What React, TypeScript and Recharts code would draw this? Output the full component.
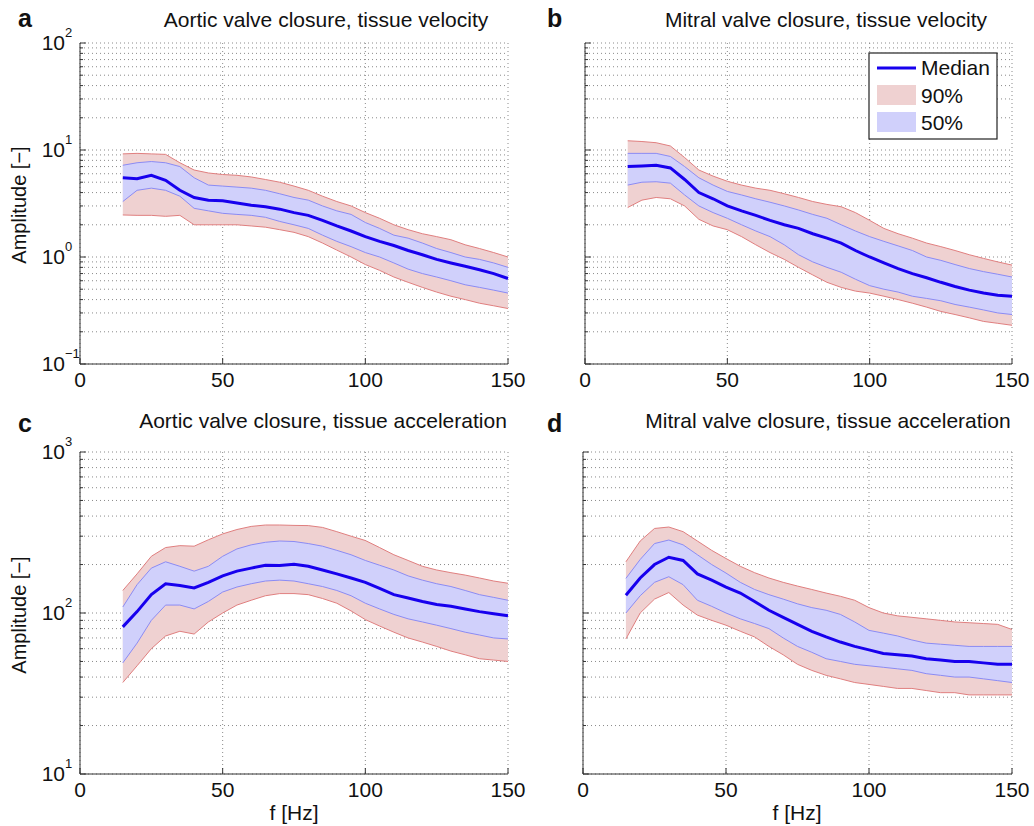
import React from 'react';
import { ComposedChart, Area, Line, XAxis, YAxis, CartesianGrid } from 'recharts';

// frequency samples [Hz]
const freq = [15, 20, 25, 30, 35, 40, 45, 50, 55, 60, 65, 70, 75, 80, 85, 90, 95, 100, 105, 110, 115, 120, 125, 130, 135, 140, 145, 150];

// a: aortic valve closure, tissue velocity
const aMedian = [5.5, 5.4, 5.8, 5.2, 4.2, 3.6, 3.4, 3.35, 3.2, 3.05, 2.95, 2.8, 2.6, 2.45, 2.2, 1.95, 1.75, 1.55, 1.4, 1.28, 1.15, 1.05, 0.95, 0.88, 0.82, 0.76, 0.7, 0.63];
const aHi90 = [9.2, 9.3, 9.2, 9.1, 7.6, 6.5, 6.1, 5.9, 5.8, 5.6, 5.3, 5.0, 4.6, 4.2, 3.7, 3.3, 3.0, 2.6, 2.3, 2.0, 1.8, 1.65, 1.55, 1.45, 1.3, 1.2, 1.1, 1.0];
const aHi50 = [7.2, 7.6, 7.8, 7.6, 7.0, 5.5, 4.7, 4.6, 4.5, 4.4, 4.2, 3.9, 3.6, 3.4, 3.0, 2.7, 2.5, 2.1, 1.85, 1.6, 1.5, 1.35, 1.2, 1.1, 1.0, 0.95, 0.88, 0.8];
const aLo50 = [3.3, 4.2, 4.4, 4.2, 3.7, 2.85, 2.7, 2.56, 2.5, 2.45, 2.35, 2.15, 2.0, 1.85, 1.6, 1.4, 1.25, 1.1, 1.0, 0.88, 0.77, 0.7, 0.65, 0.6, 0.55, 0.52, 0.49, 0.46];
const aLo90 = [2.47, 2.45, 2.45, 2.4, 2.45, 2.0, 2.0, 2.0, 2.0, 1.95, 1.9, 1.8, 1.7, 1.55, 1.35, 1.16, 1.0, 0.85, 0.75, 0.65, 0.58, 0.52, 0.47, 0.43, 0.4, 0.37, 0.35, 0.33];

// b: mitral valve closure, tissue velocity
const bMedian = [7.0, 7.1, 7.2, 6.8, 5.3, 4.0, 3.5, 3.0, 2.7, 2.45, 2.2, 2.0, 1.85, 1.65, 1.5, 1.35, 1.15, 1.0, 0.88, 0.78, 0.7, 0.64, 0.58, 0.53, 0.49, 0.46, 0.44, 0.43];
const bHi90 = [12.2, 12.0, 11.7, 10.9, 8.5, 6.5, 5.7, 5.1, 4.7, 4.4, 4.2, 3.9, 3.6, 3.3, 3.1, 2.95, 2.6, 2.2, 1.85, 1.65, 1.5, 1.35, 1.25, 1.15, 1.05, 0.97, 0.9, 0.84];
const bHi50 = [9.3, 9.3, 9.3, 8.7, 7.0, 5.5, 4.7, 4.1, 3.8, 3.5, 3.25, 3.0, 2.75, 2.5, 2.3, 2.0, 1.75, 1.55, 1.4, 1.27, 1.15, 1.0, 0.93, 0.85, 0.78, 0.73, 0.69, 0.65];
const bLo50 = [4.7, 5.0, 5.05, 4.9, 3.8, 3.0, 2.6, 2.3, 2.0, 1.75, 1.55, 1.3, 1.05, 0.9, 0.8, 0.72, 0.62, 0.54, 0.5, 0.47, 0.43, 0.41, 0.39, 0.36, 0.34, 0.32, 0.3, 0.29];
const bLo90 = [2.9, 3.4, 3.6, 3.5, 3.0, 2.25, 1.95, 1.8, 1.55, 1.3, 1.1, 0.95, 0.8, 0.68, 0.58, 0.52, 0.48, 0.46, 0.43, 0.4, 0.37, 0.34, 0.31, 0.29, 0.27, 0.25, 0.24, 0.23];

// c: aortic valve closure, tissue acceleration
const cMedian = [82, 102, 130, 152, 148, 143, 155, 170, 182, 190, 198, 197, 201, 195, 185, 175, 165, 155, 142, 130, 124, 118, 113, 110, 106, 102, 99, 96];
const cHi90 = [138, 175, 225, 255, 262, 260, 285, 310, 330, 345, 352, 352, 350, 349, 340, 320, 300, 282, 255, 230, 212, 195, 185, 178, 172, 165, 158, 153];
const cHi50 = [109, 150, 190, 208, 195, 182, 195, 225, 250, 265, 275, 280, 278, 270, 260, 245, 230, 212, 198, 185, 170, 160, 152, 146, 138, 130, 125, 120];
const cLo50 = [49, 65, 90, 112, 112, 106, 118, 135, 145, 152, 158, 160, 158, 152, 146, 138, 128, 115, 106, 98, 92, 88, 84, 80, 76, 73, 70, 69];
const cLo90 = [37, 47, 60, 72, 77, 74, 88, 100, 112, 120, 128, 132, 132, 130, 123, 115, 103, 91, 83, 76, 70, 66, 62, 58, 55, 52, 51, 50];

// d: mitral valve closure, tissue acceleration
const dMedian = [129, 165, 200, 222, 212, 175, 160, 145, 133, 118, 104, 94, 85, 77, 71, 66, 62, 59, 56, 55, 54, 52, 51, 50, 50, 49, 48, 48];
const dHi90 = [208, 280, 335, 342, 320, 280, 245, 218, 195, 178, 165, 155, 147, 140, 133, 127, 120, 108, 100, 96, 94, 92, 90, 88, 87, 86, 85, 79];
const dHi50 = [164, 215, 270, 284, 265, 230, 200, 177, 155, 140, 130, 122, 114, 108, 104, 98, 88, 78, 75, 72, 68, 65, 64, 63, 62, 62, 62, 62];
const dLo50 = [100, 128, 155, 168, 150, 120, 110, 100, 92, 86, 80, 70, 62, 57, 52, 50, 48, 47, 46, 45, 44, 42, 41, 40, 40, 39, 38, 37];
const dLo90 = [69, 100, 122, 134, 112, 97, 90, 84, 77, 71, 62, 55, 48, 44, 41, 39, 37, 36, 35, 34, 34, 33, 32, 32, 31, 31, 31, 31];

// axis ticks
const xTicks = [0, 50, 100, 150];
const velDecades = [0.1, 1, 10, 100];
const accDecades = [10, 100, 1000];
const minorSteps = [1, 2, 3, 4, 5, 6, 7, 8, 9];

const FONT = '"Liberation Sans", Arial, Helvetica, sans-serif';
const AXIS = '#333';
const MINUS = '\u2212';

const logTicks = (decades: number[]) => {
  const out: number[] = [];
  decades.slice(0, -1).forEach((d) => minorSteps.forEach((m) => out.push(+(d * m).toPrecision(6))));
  out.push(decades[decades.length - 1]);
  return out;
};

const makeRows = (med: number[], lo90: number[], hi90: number[], lo50: number[], hi50: number[]) =>
  freq.map((f, i) => ({ f, med: med[i], p90: [lo90[i], hi90[i]], p50: [lo50[i], hi50[i]] }));

const YTick = (props: any) => {
  const { x, y, payload, showLabel } = props;
  const v = payload.value;
  const e = Math.log10(v);
  const major = Math.abs(e - Math.round(e)) < 1e-6;
  const exp = Math.round(e);
  return (
    <g>
      <line x1={x} x2={x + (major ? 6 : 3)} y1={y} y2={y} stroke={AXIS} />
      {major && showLabel && (
        <g fontFamily={FONT} fill="#111">
          <text x={x - 15} y={y + 7} textAnchor="end" fontSize={21}>10</text>
          <text x={x - 15} y={y - 6} fontSize={13}>{exp < 0 ? MINUS + -exp : exp}</text>
        </g>
      )}
    </g>
  );
};

const XTick = (props: any) => {
  const { x, y, payload } = props;
  return (
    <g>
      <line x1={x} x2={x} y1={y} y2={y - 6} stroke={AXIS} />
      <text x={x} y={y + 23} textAnchor="middle" fontSize={21} fontFamily={FONT} fill="#111">
        {payload.value}
      </text>
    </g>
  );
};

type PanelProps = {
  left: number;
  top: number;
  width: number;
  height: number;
  margin: { top: number; right: number; left: number; bottom: number };
  rows: any[];
  decades: number[];
  showYLabels: boolean;
};

const Panel = ({ left, top, width, height, margin, rows, decades, showYLabels }: PanelProps) => (
  <div style={{ position: 'absolute', left, top }}>
    <ComposedChart width={width} height={height} data={rows} margin={margin}>
      <CartesianGrid stroke="#8a8a8a" strokeDasharray="1 3" />
      <XAxis
        dataKey="f"
        type="number"
        domain={[0, 150]}
        ticks={xTicks}
        interval={0}
        height={40}
        tickSize={0}
        tickMargin={0}
        tickLine={false}
        axisLine={{ stroke: AXIS }}
        tick={<XTick />}
      />
      <YAxis
        type="number"
        scale="log"
        domain={[decades[0], decades[decades.length - 1]]}
        allowDataOverflow
        ticks={logTicks(decades)}
        interval={0}
        width={80}
        tickSize={0}
        tickMargin={0}
        tickLine={false}
        axisLine={{ stroke: AXIS }}
        tick={<YTick showLabel={showYLabels} />}
      />
      <Area dataKey="p90" type="linear" fill="#efd1d1" fillOpacity={1} stroke="#e07f7f" strokeWidth={1} isAnimationActive={false} />
      <Area dataKey="p50" type="linear" fill="#d0d0fb" fillOpacity={1} stroke="#8b8bf4" strokeWidth={1} isAnimationActive={false} />
      <Line dataKey="med" type="linear" stroke="#1700ee" strokeWidth={3} dot={false} isAnimationActive={false} />
    </ComposedChart>
  </div>
);

const Overlay = () => (
  <svg width={1034} height={826} style={{ position: 'absolute', left: 0, top: 0, pointerEvents: 'none' }} fontFamily={FONT} fill="#111">
    <text x={18} y={27} fontSize={25} fontWeight="bold">a</text>
    <text x={547} y={27} fontSize={25} fontWeight="bold">b</text>
    <text x={18} y={432} fontSize={25} fontWeight="bold">c</text>
    <text x={547} y={432} fontSize={25} fontWeight="bold">d</text>
    <text x={326} y={27} fontSize={21} textAnchor="middle">Aortic valve closure, tissue velocity</text>
    <text x={826} y={27} fontSize={21} textAnchor="middle">Mitral valve closure, tissue velocity</text>
    <text x={323} y={428} fontSize={21} textAnchor="middle">Aortic valve closure, tissue acceleration</text>
    <text x={828} y={428} fontSize={21} textAnchor="middle">Mitral valve closure, tissue acceleration</text>
    <text x={26} y={205} fontSize={20} textAnchor="middle" transform="rotate(-90 26 205)">{'Amplitude [' + MINUS + ']'}</text>
    <text x={26} y={615} fontSize={20} textAnchor="middle" transform="rotate(-90 26 615)">{'Amplitude [' + MINUS + ']'}</text>
    <text x={294} y={820} fontSize={21} textAnchor="middle">f [Hz]</text>
    <text x={797} y={820} fontSize={21} textAnchor="middle">f [Hz]</text>
    {/* legend, panel b */}
    <g>
      <rect x={869} y={53} width={128} height={86} fill="#fff" stroke="#222" strokeWidth={1.2} />
      <line x1={877} x2={916} y1={68} y2={68} stroke="#1700ee" strokeWidth={3} />
      <text x={921} y={75} fontSize={21}>Median</text>
      <rect x={877} y={85} width={39} height={20} fill="#efd1d1" />
      <text x={921} y={103} fontSize={21}>90%</text>
      <rect x={877} y={112} width={39} height={20} fill="#d0d0fb" />
      <text x={921} y={130} fontSize={21}>50%</text>
    </g>
  </svg>
);

export default function App() {
  const rowsA = makeRows(aMedian, aLo90, aHi90, aLo50, aHi50);
  const rowsB = makeRows(bMedian, bLo90, bHi90, bLo50, bHi50);
  const rowsC = makeRows(cMedian, cLo90, cHi90, cLo50, cHi50);
  const rowsD = makeRows(dMedian, dLo90, dHi90, dLo50, dHi50);
  return (
    <div style={{ position: 'absolute', left: 0, top: 0, width: 1034, height: 826, background: '#fff', overflow: 'hidden' }}>
      <Panel left={0} top={0} width={540} height={410} margin={{ top: 43, right: 32, left: 0, bottom: 6 }} rows={rowsA} decades={velDecades} showYLabels />
      <Panel left={505} top={0} width={529} height={410} margin={{ top: 43, right: 22, left: 0, bottom: 6 }} rows={rowsB} decades={velDecades} showYLabels={false} />
      <Panel left={0} top={410} width={540} height={416} margin={{ top: 42, right: 32, left: 0, bottom: 12 }} rows={rowsC} decades={accDecades} showYLabels />
      <Panel left={503} top={410} width={531} height={416} margin={{ top: 42, right: 22, left: 0, bottom: 12 }} rows={rowsD} decades={accDecades} showYLabels={false} />
      <Overlay />
    </div>
  );
}
